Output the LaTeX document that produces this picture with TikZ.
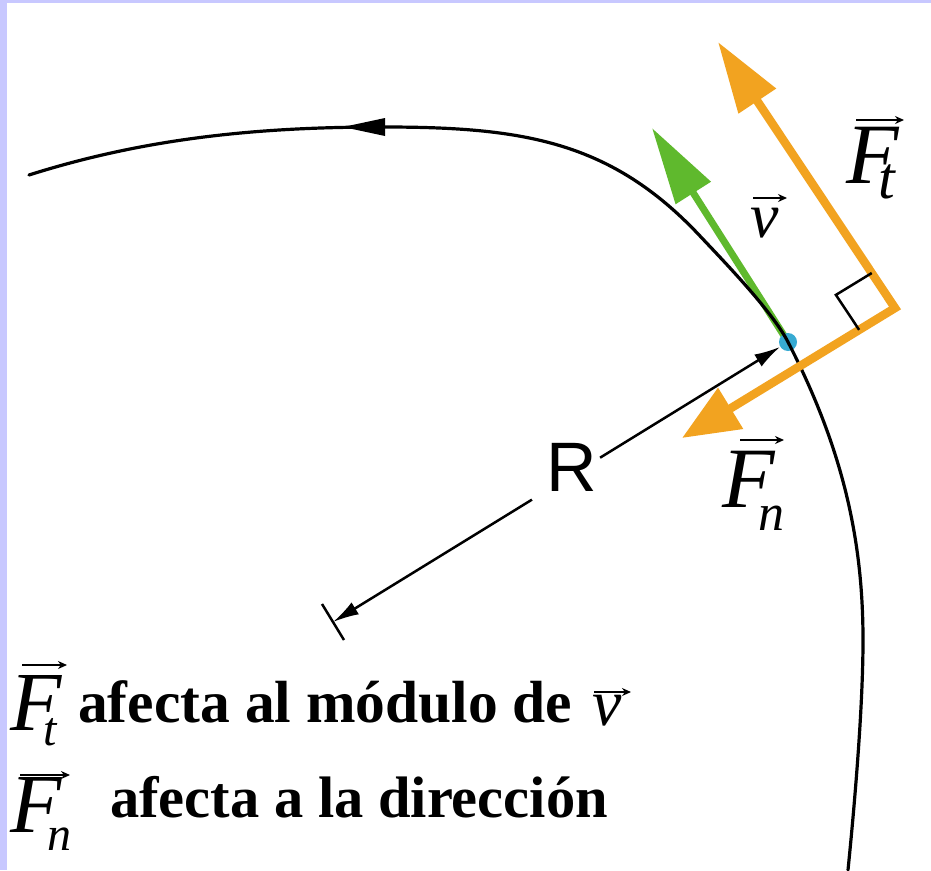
\documentclass[tikz,border=0pt]{standalone}
\usepackage{fontspec}
\setmainfont{Liberation Serif}
\newfontfamily\sansfam{Liberation Sans}
\usetikzlibrary{arrows.meta,calc}
\definecolor{lav}{RGB}{200,200,255}
\definecolor{vgreen}{RGB}{95,185,45}
\definecolor{forange}{RGB}{242,163,32}
\definecolor{dotblue}{RGB}{55,170,210}
\begin{document}
\begin{tikzpicture}[x=1pt,y=-1pt,
  lbl/.style={inner sep=0pt, anchor=base west, font=\fontsize{86}{90}\selectfont\itshape},
  sublbl/.style={inner sep=0pt, anchor=base west, font=\fontsize{52}{56}\selectfont\itshape},
  vlbl/.style={inner sep=0pt, anchor=base west, font=\fontsize{64}{68}\selectfont\itshape},
  txt/.style={inner sep=0pt, anchor=base west, font=\fontsize{59.5}{64}\selectfont\bfseries},
  vecarr/.style={draw, line width=2pt, -{Stealth[length=9pt,width=8pt]}},
  thinline/.style={line width=2.5pt},
  dot/.style={circle, fill=dotblue, minimum size=18pt, inner sep=0pt},
]
\useasboundingbox (0,0) rectangle (931,870);
\fill[white] (0,0) rectangle (931,870);
\fill[lav] (0,0) rectangle (7,870);
\fill[lav] (0,0) rectangle (931,3);

% key points
\coordinate (Pc) at (788,342);
\coordinate (vtip) at (652,128);
\coordinate (K) at (895,308);
\coordinate (FtTip) at (718,42);
\coordinate (FnTip) at (682,438);
\coordinate (Rmid) at (572,475);
\coordinate (Rend) at (333,622);

% velocity
\draw[vgreen, line width=7pt, -{Triangle[length=77pt,width=40pt]}] (Pc) -- (vtip);
\node[dot] (P) at (Pc) {};

% trajectory
\coordinate (c0) at (29,175);
\coordinate (c1) at (383,127);
\coordinate (c2) at (700,236);
\coordinate (c3) at (863,640);
\coordinate (c4) at (848,870);
\draw[line width=3.2pt, line cap=round]
  (c4) .. controls (851,840) and (863,720) .. (c3)
       .. controls (863,540) and (843,449) .. (Pc)
       .. controls (772,311) and (724,261.5) .. (c2)
       .. controls (611,141) and (523,127) .. (c1)
       .. controls (263,127) and (149,137) .. (c0);
\coordinate (ah) at (343,127);
\fill (ah) -- ++(42,-9) -- ++(0,18) -- cycle;

% forces
\draw[forange, line width=8.5pt, line join=miter,
  {Triangle[length=71pt,width=43pt]}-{Triangle[length=57pt,width=46pt]}]
  (FtTip) -- (K) -- (FnTip);

% right angle mark
\coordinate (qa) at ($(K)!42pt!(FtTip)$);
\coordinate (qc) at ($(K)!42pt!(FnTip)$);
\draw[thinline] (qa) -- ($(qa)+(qc)-(K)$) -- (qc);

% radius
\node[inner sep=0pt, font=\fontsize{70}{74}\selectfont\sansfam] (R) at (572,467) {R};
\draw[thinline, -{Latex[length=26pt,width=14pt]}, shorten <=33pt] (Rmid) -- (P);
\draw[thinline, -{Latex[length=26pt,width=14pt]}, shorten <=47pt] (Rmid) -- (Rend);
\draw[thinline] ($(Rend)+(-11,-18)$) -- ($(Rend)+(11,18)$);

% labels near the point
\node[lbl] (Ft) at (846,183) {F};
\node[sublbl, font=\fontsize{60}{64}\selectfont\itshape] (Ftsub) at (878,198) {t};
\draw[vecarr] ($(Ft.base west)+(10,-63)$) -- ++(48,0);

\node[vlbl] (v) at (750,237) {v};
\draw[vecarr] ($(v.base west)+(3,-39)$) -- ++(34,0);

\node[lbl] (Fn) at (722,507) {F};
\node[sublbl] (Fnsub) at (758,530) {n};
\draw[vecarr] ($(Fn.base west)+(18,-67)$) -- ++(44,0);

% bottom text
\node[lbl, font=\fontsize{84}{88}\selectfont\itshape] (Ftb) at (10,730) {F};
\node[sublbl, font=\fontsize{48}{52}\selectfont\itshape] (Ftbsub) at (43,745) {t};
\draw[vecarr] ($(Ftb.base west)+(12,-65)$) -- ++(45,0);
\node[txt] (line1) at (78,722) {afecta al módulo de};
\node[vlbl, font=\fontsize{66}{70}\selectfont\itshape] (vb) at (592,725) {v};
\draw[vecarr] ($(vb.base west)+(2,-33)$) -- ++(37,0);

\node[lbl, font=\fontsize{84}{88}\selectfont\itshape] (Fnb) at (10,832) {F};
\node[sublbl, font=\fontsize{48}{52}\selectfont\itshape] (Fnbsub) at (47,850) {n};
\draw[vecarr] ($(Fnb.base west)+(10,-57)$) -- ++(50,0);
\node[txt, font=\fontsize{58.5}{63}\selectfont\bfseries] (line2) at (110,817) {afecta a la dirección};
\end{tikzpicture}
\end{document}
